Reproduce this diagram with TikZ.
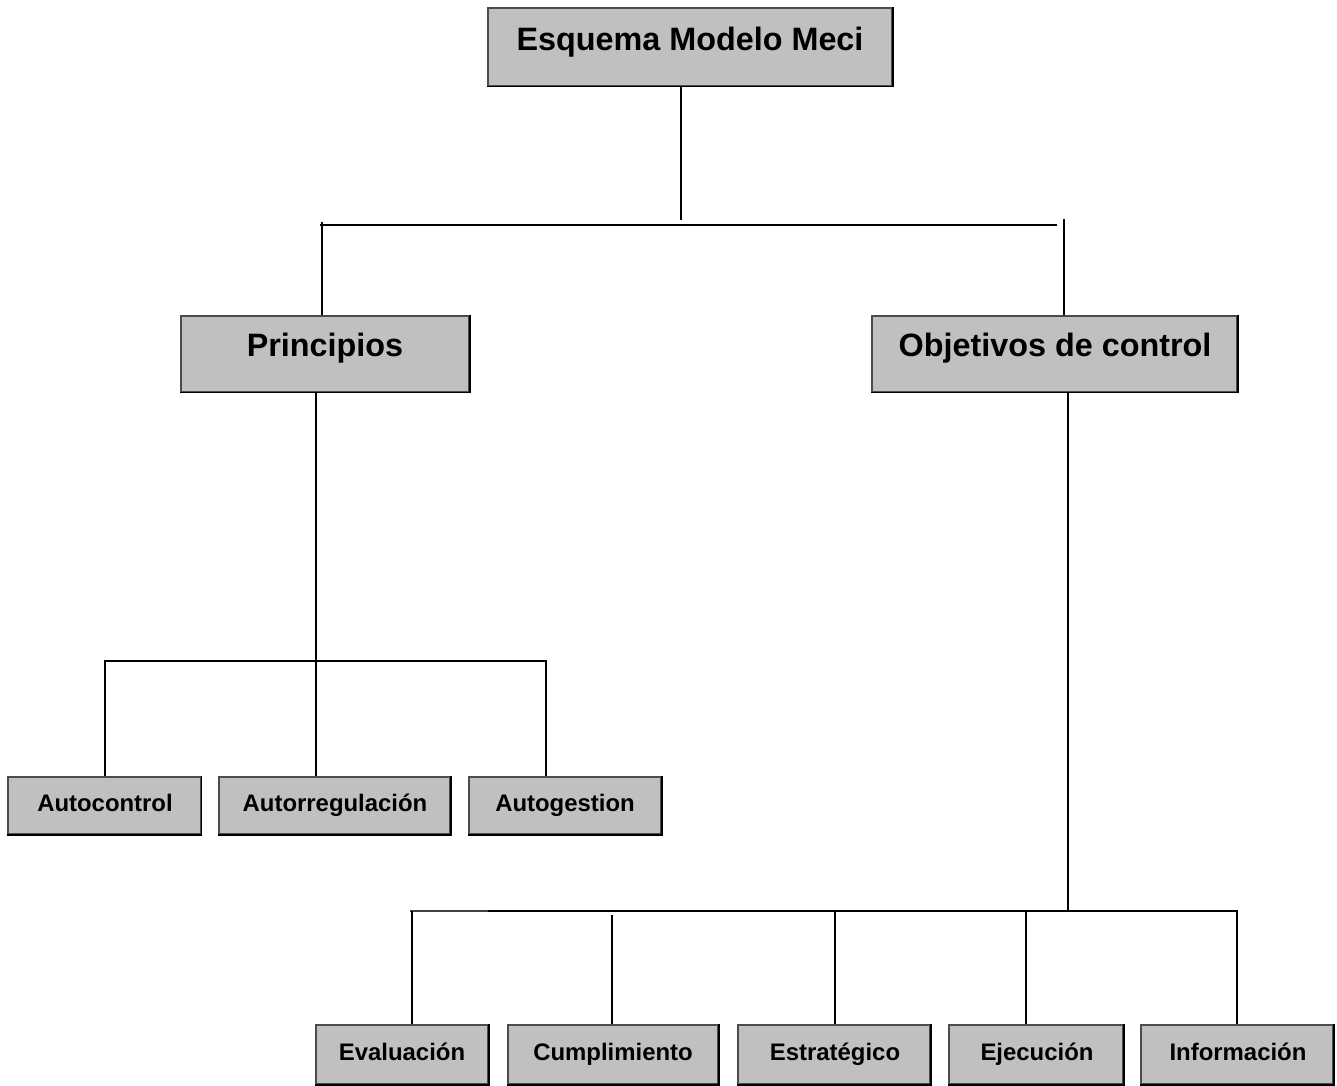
\documentclass[tikz,border=0pt]{standalone}
\usepackage{fontspec}
\setmainfont{Liberation Sans}
\usetikzlibrary{fit}
\definecolor{boxgray}{HTML}{C0C0C0}
\tikzset{
  box/.style={draw=black!70, line width=0.4pt, fill=boxgray, inner sep=0pt},
  edge/.style={line width=0.45pt, black},
  bigtxt/.style={font=\fontsize{9.2}{11}\selectfont\bfseries, inner sep=0pt, anchor=base},
  smalltxt/.style={font=\fontsize{6.8}{8}\selectfont\bfseries, inner sep=0pt, anchor=base},
  conn/.style={line width=0.55pt, black}
}
\begin{document}
\begin{tikzpicture}[x=0.01cm, y=-0.01cm]
\useasboundingbox (0,0) rectangle (1337,1085);

% boxes
\node[box, fit={(488,8) (892,86)}] (top) {};
\node[box, fit={(181,316) (469,392)}] (prin) {};
\node[box, fit={(872,316) (1237,392)}] (obj) {};
\node[box, fit={(8,777) (201,834)}] (autoc) {};
\node[box, fit={(219,777) (450,834)}] (autor) {};
\node[box, fit={(469,777) (661,834)}] (autog) {};
\node[box, fit={(316,1025) (488,1084)}] (eval) {};
\node[box, fit={(508,1025) (718,1084)}] (cump) {};
\node[box, fit={(738,1025) (930,1084)}] (estr) {};
\node[box, fit={(949,1025) (1123,1084)}] (ejec) {};
\node[box, fit={(1141,1025) (1333,1084)}] (info) {};

% darker lower and right edges of every box
\foreach \n in {top,prin,obj,autoc,autor,autog,eval,cump,estr,ejec,info}
  \draw[edge] (\n.south west) -- (\n.south east) -- (\n.north east);

% labels
\node[bigtxt] (ttop) at (690,51) {Esquema Modelo Meci};
\node[bigtxt] (tprin) at (325,356) {Principios};
\node[bigtxt] (tobj) at (1055,356) {Objetivos de control};
\node[smalltxt] (tautoc) at (105,811) {Autocontrol};
\node[smalltxt] (tautor) at (335,811) {Autorregulación};
\node[smalltxt] (tautog) at (565,811) {Autogestion};
\node[smalltxt] (teval) at (402,1060) {Evaluación};
\node[smalltxt] (tcump) at (613,1060) {Cumplimiento};
\node[smalltxt] (testr) at (835,1060) {Estratégico};
\node[smalltxt] (tejec) at (1037,1060) {Ejecución};
\node[smalltxt] (tinfo) at (1238,1060) {Información};

% junction points
\coordinate (j0) at (681,220);
\coordinate (h1a) at (320,225);
\coordinate (h1b) at (1057,225);
\coordinate (l1) at (322,222);
\coordinate (r1) at (1064,219);
\coordinate (h2a) at (105,661);
\coordinate (h2b) at (546,661);
\coordinate (h3a) at (410,911);
\coordinate (h3m) at (488,911);
\coordinate (h3b) at (1238,911);
\coordinate (s3) at (612,915);

% first level
\draw[conn] (top.south -| j0) -- (j0);
\draw[conn] (h1a) -- (h1b);
\draw[conn] (l1) -- (prin.north -| l1);
\draw[conn] (r1) -- (obj.north -| r1);

% Principios branch
\draw[conn] (prin.south -| 316,0) -- (autor.north -| 316,0);
\draw[conn] (autoc.north -| h2a) -- (h2a) -- (h2b) -- (autog.north -| h2b);

% Objetivos branch
\draw[conn] (obj.south -| 1068,0) -- (1068,912);
\draw[conn, black!75] (h3a) -- (h3m);
\draw[conn] (h3m) -- (h3b);
\draw[conn] (412,911) -- (eval.north -| 412,0);
\draw[conn] (s3) -- (cump.north -| s3);
\draw[conn] (835,911) -- (estr.north -| 835,0);
\draw[conn] (1026,911) -- (ejec.north -| 1026,0);
\draw[conn] (1237,911) -- (info.north -| 1237,0);
\end{tikzpicture}
\end{document}
